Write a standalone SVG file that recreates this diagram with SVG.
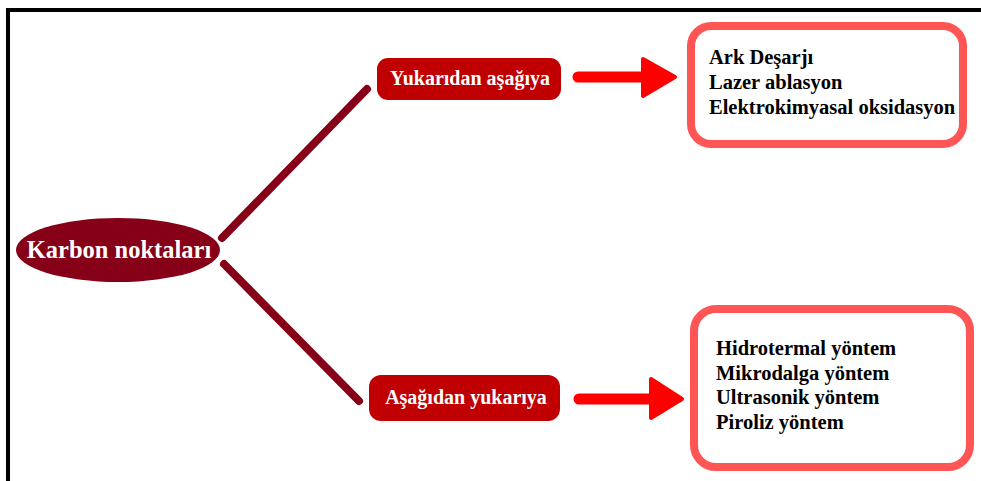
<svg xmlns="http://www.w3.org/2000/svg" width="981" height="481" viewBox="0 0 981 481">
<style>
.t{font-family:"Liberation Serif","Times New Roman",serif;font-weight:bold}
.w{fill:#ffffff}
.b{fill:#000000;font-size:20.5px}
.lbl{fill:#C00000}
.box{fill:#ffffff;stroke:#FF5555;stroke-width:8}
.con{stroke:#860018;stroke-width:8;stroke-linecap:round;fill:none}
.arr{stroke:#FF0000;stroke-width:11;stroke-linecap:round;fill:none}
.head{fill:#FF0000;stroke:#FF0000;stroke-width:4;stroke-linejoin:round}
</style>
<rect x="0" y="0" width="981" height="481" fill="#ffffff"/>
<rect x="8" y="10" width="990" height="500" fill="none" stroke="#000000" stroke-width="4"/>
<g id="connectors">
<line class="con" x1="222" y1="238" x2="367" y2="89"/>
<line class="con" x1="224" y1="264" x2="359" y2="401"/>
<line class="arr" x1="578" y1="77" x2="645" y2="77"/>
<polygon class="head" points="643,59 675,77 643,96"/>
<line class="arr" x1="579" y1="399" x2="652" y2="399"/>
<polygon class="head" points="651,379 682,399 651,418"/>
</g>
<g id="karbon">
<ellipse cx="118" cy="250" rx="102" ry="32" fill="#860018"/>
<text class="t w" x="119" y="258" font-size="24.5" text-anchor="middle">Karbon noktaları</text>
</g>
<g id="yukaridan">
<rect class="lbl" x="377" y="58" width="184" height="42" rx="11"/>
<text class="t w" x="470" y="85" font-size="20" text-anchor="middle">Yukarıdan aşağıya</text>
</g>
<g id="asagidan">
<rect class="lbl" x="369" y="375" width="191" height="46" rx="12"/>
<text class="t w" x="466" y="404" font-size="20" text-anchor="middle">Aşağıdan yukarıya</text>
</g>
<g id="top-methods">
<rect class="box" x="691" y="26" width="272" height="118" rx="20"/>
<text class="t b" x="709" y="64">Ark Deşarjı</text>
<text class="t b" x="709" y="89">Lazer ablasyon</text>
<text class="t b" x="709" y="114">Elektrokimyasal oksidasyon</text>
</g>
<g id="bottom-methods">
<rect class="box" x="694" y="309" width="276" height="158" rx="22"/>
<text class="t b" x="716" y="355">Hidrotermal yöntem</text>
<text class="t b" x="716" y="380">Mikrodalga yöntem</text>
<text class="t b" x="716" y="404">Ultrasonik yöntem</text>
<text class="t b" x="716" y="429">Piroliz yöntem</text>
</g>
</svg>
